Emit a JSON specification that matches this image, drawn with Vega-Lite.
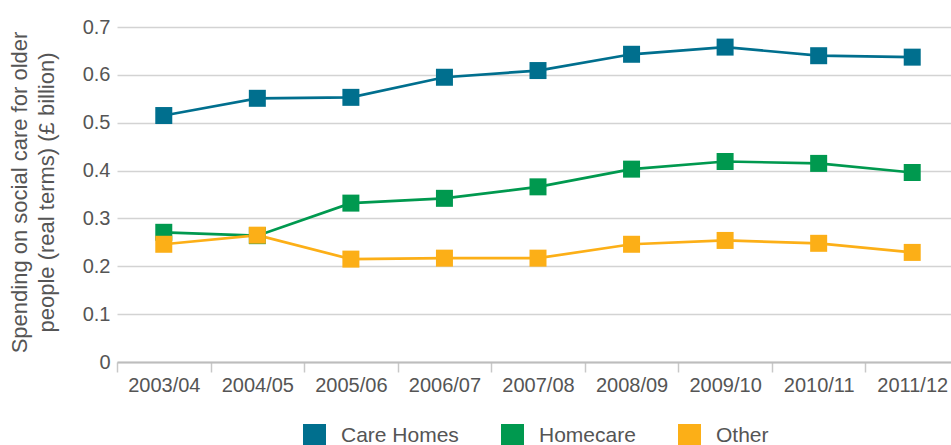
{
  "$schema": "https://vega.github.io/schema/vega-lite/v6.json",
  "width": 834,
  "height": 335,
  "autosize": {"type": "none"},
  "padding": {"left": 117, "top": 27, "right": 0, "bottom": 83},
  "background": "white",
  "config": {
    "view": {"stroke": null},
    "font": "Liberation Sans"
  },
  "data": {
    "values": [
      {"year": "2003/04", "type": "Care Homes", "value": 0.515},
      {"year": "2004/05", "type": "Care Homes", "value": 0.551},
      {"year": "2005/06", "type": "Care Homes", "value": 0.553},
      {"year": "2006/07", "type": "Care Homes", "value": 0.595},
      {"year": "2007/08", "type": "Care Homes", "value": 0.609},
      {"year": "2008/09", "type": "Care Homes", "value": 0.643},
      {"year": "2009/10", "type": "Care Homes", "value": 0.658},
      {"year": "2010/11", "type": "Care Homes", "value": 0.640},
      {"year": "2011/12", "type": "Care Homes", "value": 0.637},
      {"year": "2003/04", "type": "Homecare", "value": 0.271},
      {"year": "2004/05", "type": "Homecare", "value": 0.264},
      {"year": "2005/06", "type": "Homecare", "value": 0.332},
      {"year": "2006/07", "type": "Homecare", "value": 0.342},
      {"year": "2007/08", "type": "Homecare", "value": 0.366},
      {"year": "2008/09", "type": "Homecare", "value": 0.403},
      {"year": "2009/10", "type": "Homecare", "value": 0.419},
      {"year": "2010/11", "type": "Homecare", "value": 0.415},
      {"year": "2011/12", "type": "Homecare", "value": 0.396},
      {"year": "2003/04", "type": "Other", "value": 0.246},
      {"year": "2004/05", "type": "Other", "value": 0.265},
      {"year": "2005/06", "type": "Other", "value": 0.215},
      {"year": "2006/07", "type": "Other", "value": 0.217},
      {"year": "2007/08", "type": "Other", "value": 0.217},
      {"year": "2008/09", "type": "Other", "value": 0.246},
      {"year": "2009/10", "type": "Other", "value": 0.254},
      {"year": "2010/11", "type": "Other", "value": 0.248},
      {"year": "2011/12", "type": "Other", "value": 0.229}
    ]
  },
  "encoding": {
    "x": {
      "field": "year",
      "type": "nominal",
      "bandPosition": 0.5,
      "scale": {"type": "band", "range": [0, 842], "paddingInner": 0, "paddingOuter": 0},
      "axis": {
        "title": null,
        "labelAngle": 0,
        "labelFontSize": 20,
        "labelColor": "#555555",
        "labelPadding": 3,
        "tickBand": "extent",
        "tickSize": 10,
        "tickColor": "#c8c8c8",
        "tickWidth": 1.5,
        "domainColor": "#bdbdbd",
        "domainWidth": 2,
        "grid": false
      }
    },
    "y": {
      "field": "value",
      "type": "quantitative",
      "scale": {"domain": [0, 0.7], "nice": false, "zero": true},
      "axis": {
        "values": [0, 0.1, 0.2, 0.3, 0.4, 0.5, 0.6, 0.7],
        "labelExpr": "datum.value == 0 ? '0' : format(datum.value, '.1f')",
        "labelFontSize": 20,
        "labelColor": "#555555",
        "labelPadding": 7,
        "ticks": false,
        "domain": false,
        "grid": true,
        "gridColor": "#d3d3d3",
        "gridWidth": 1.5,
        "title": ["Spending on social care for older", "people (real terms) (£ billion)"],
        "titleFontSize": 22,
        "titleFontWeight": "normal",
        "titleColor": "#555555",
        "titleAngle": -90,
        "titleX": -98,
        "titleY": 165,
        "titleAlign": "center",
        "titleBaseline": "middle",
        "titleLineHeight": 27
      }
    },
    "color": {
      "field": "type",
      "type": "nominal",
      "scale": {"domain": ["Care Homes", "Homecare", "Other"], "range": ["#006f8e", "#00994f", "#fcaf17"]},
      "legend": {
        "title": null,
        "orient": "none",
        "legendX": 186,
        "legendY": 397,
        "direction": "horizontal",
        "symbolType": "square",
        "symbolSize": 529,
        "symbolStrokeWidth": 0,
        "symbolOpacity": 1,
        "labelFontSize": 21,
        "labelColor": "#555555",
        "labelOffset": 15,
        "columnPadding": 42
      }
    }
  },
  "layer": [
    {
      "mark": {"type": "line", "strokeWidth": 2.7}
    },
    {
      "mark": {"type": "point", "shape": "square", "filled": true, "size": 289, "opacity": 1}
    }
  ]
}
